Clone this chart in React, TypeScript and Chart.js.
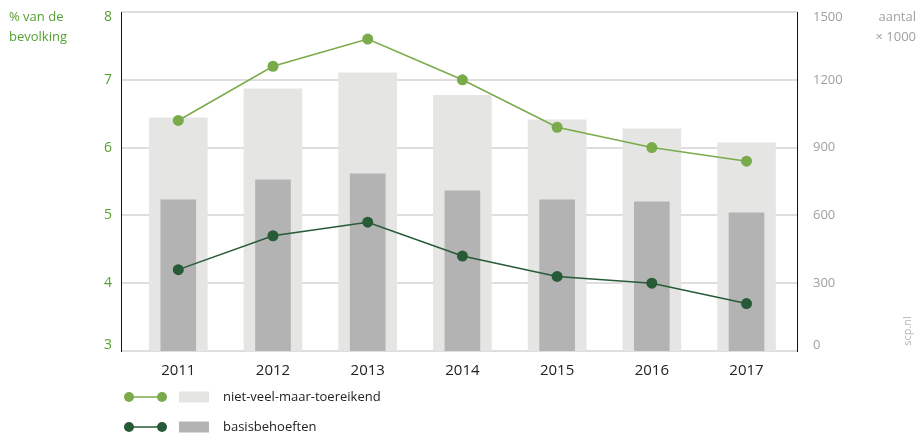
import React, { useEffect, useRef } from "react";
import { Chart, registerables } from "chart.js";

Chart.register(...registerables);

const years = [2011, 2012, 2013, 2014, 2015, 2016, 2017];
const pctNietVeel = [6.4, 7.2, 7.6, 7.0, 6.3, 6.0, 5.8];
const pctBasis = [4.2, 4.7, 4.9, 4.4, 4.1, 4.0, 3.7];
const aantalNietVeel = [1032, 1160, 1231, 1131, 1023, 983, 921];
const aantalBasis = [669, 757, 784, 709, 669, 660, 611];
const leftTicks = [3, 4, 5, 6, 7, 8];
const rightTicks = [0, 300, 600, 900, 1200, 1500];

const LIGHT_GREEN = "#7aab4a";
const DARK_GREEN = "#275a37";
const LIGHT_BAR = "#e5e5e4";
const DARK_BAR = "#b3b3b3";
const AXIS_GREEN = "#55a030";
const GRAY_TEXT = "#a0a0a0";
const FONT = "'Open Sans', 'DejaVu Sans', sans-serif";

// shift the outermost tick labels inwards, as in the reference
const edgeLabel = (v: number, min: number, max: number) => {
  const s = String(v);
  if (v === max) return ["", s];
  if (v === min) return [s, ""];
  return s;
};

const extrasPlugin = {
  id: "extras",
  afterDraw(chart: any) {
    const ctx = chart.ctx as CanvasRenderingContext2D;
    ctx.save();
    // axis titles
    ctx.font = `13px ${FONT}`;
    ctx.textBaseline = "middle";
    ctx.fillStyle = AXIS_GREEN;
    ctx.textAlign = "left";
    ctx.fillText("% van de", 9, 17);
    ctx.fillText("bevolking", 9, 37);
    ctx.fillStyle = GRAY_TEXT;
    ctx.textAlign = "right";
    ctx.fillText("aantal", 916, 17);
    ctx.fillText("× 1000", 916, 37);

    // legend
    const rows = [
      { y: 397, line: LIGHT_GREEN, box: LIGHT_BAR, text: "niet-veel-maar-toereikend" },
      { y: 427, line: DARK_GREEN, box: DARK_BAR, text: "basisbehoeften" },
    ];
    for (const r of rows) {
      ctx.strokeStyle = r.line;
      ctx.lineWidth = 1.5;
      ctx.beginPath();
      ctx.moveTo(129, r.y);
      ctx.lineTo(162, r.y);
      ctx.stroke();
      ctx.fillStyle = r.line;
      for (const x of [129, 162]) {
        ctx.beginPath();
        ctx.arc(x, r.y, 5, 0, Math.PI * 2);
        ctx.fill();
      }
      ctx.fillStyle = r.box;
      ctx.fillRect(179, r.y - 5.5, 30, 11);
      ctx.fillStyle = "#222";
      ctx.textAlign = "left";
      ctx.font = `13px ${FONT}`;
      ctx.fillText(r.text, 223, r.y);
    }

    // watermark
    ctx.translate(908, 331);
    ctx.rotate(-Math.PI / 2);
    ctx.font = `11px ${FONT}`;
    ctx.fillStyle = "#b5b5b5";
    ctx.textAlign = "center";
    ctx.fillText("scp.nl", 0, 0);
    ctx.restore();
  },
};

export default function App() {
  const ref = useRef<HTMLCanvasElement | null>(null);

  useEffect(() => {
    if (!ref.current) return;
    const chart = new Chart(ref.current, {
      type: "bar",
      data: {
        datasets: [
          {
            type: "line",
            label: "niet-veel-maar-toereikend (%)",
            data: years.map((x, i) => ({ x, y: pctNietVeel[i] })),
            yAxisID: "y",
            borderColor: LIGHT_GREEN,
            backgroundColor: LIGHT_GREEN,
            borderWidth: 1.5,
            pointRadius: 5.5,
            pointBorderWidth: 0,
            pointBackgroundColor: LIGHT_GREEN,
            order: 0,
          } as any,
          {
            type: "line",
            label: "basisbehoeften (%)",
            data: years.map((x, i) => ({ x, y: pctBasis[i] })),
            yAxisID: "y",
            borderColor: DARK_GREEN,
            backgroundColor: DARK_GREEN,
            borderWidth: 1.5,
            pointRadius: 5.5,
            pointBorderWidth: 0,
            pointBackgroundColor: DARK_GREEN,
            order: 1,
          } as any,
          {
            type: "bar",
            label: "basisbehoeften (aantal)",
            data: years.map((x, i) => ({ x, y: aantalBasis[i] })),
            yAxisID: "y1",
            backgroundColor: DARK_BAR,
            barThickness: 35,
            grouped: false,
            order: 2,
          } as any,
          {
            type: "bar",
            label: "niet-veel-maar-toereikend (aantal)",
            data: years.map((x, i) => ({ x, y: aantalNietVeel[i] })),
            yAxisID: "y1",
            backgroundColor: LIGHT_BAR,
            barThickness: 58,
            grouped: false,
            order: 3,
          } as any,
        ],
      },
      options: {
        animation: false,
        responsive: true,
        maintainAspectRatio: false,
        layout: { padding: { top: 12, left: 0, right: 0, bottom: 0 } },
        plugins: {
          legend: { display: false },
          tooltip: { enabled: false },
        },
        scales: {
          x: {
            type: "linear",
            offset: false,
            min: 2010.395,
            max: 2017.533,
            afterBuildTicks: (scale: any) => {
              scale.ticks = years.map((v) => ({ value: v }));
            },
            afterFit: (scale: any) => {
              scale.height = 83;
              scale.paddingLeft = 0;
              scale.paddingRight = 0;
            },
            grid: { display: false, drawTicks: true, tickLength: 8 },
            border: { display: false },
            ticks: {
              color: "#222",
              font: { family: FONT, size: 15 },
              padding: 3,
              maxRotation: 0,
              callback: (v: any) => String(v),
            },
          },
          y: {
            type: "linear",
            position: "left",
            min: 3,
            max: 8,
            afterBuildTicks: (scale: any) => {
              scale.ticks = leftTicks.map((v) => ({ value: v }));
            },
            afterFit: (scale: any) => {
              scale.width = 121;
              scale.paddingTop = 0;
              scale.paddingBottom = 0;
            },
            grid: { color: "#dedede", lineWidth: 2, drawTicks: false },
            border: { display: true, color: "#111", width: 1 },
            ticks: {
              color: AXIS_GREEN,
              font: { family: FONT, size: 14, lineHeight: "11px" },
              padding: 9,
              callback: (v: any) => edgeLabel(v, 3, 8),
            },
          },
          y1: {
            type: "linear",
            position: "right",
            min: 0,
            max: 1500,
            afterBuildTicks: (scale: any) => {
              scale.ticks = rightTicks.map((v) => ({ value: v }));
            },
            afterFit: (scale: any) => {
              scale.width = 121;
              scale.paddingTop = 0;
              scale.paddingBottom = 0;
            },
            grid: { display: false, drawTicks: false },
            border: { display: true, color: "#111", width: 1 },
            ticks: {
              color: GRAY_TEXT,
              font: { family: FONT, size: 13, lineHeight: "11px" },
              padding: 16,
              callback: (v: any) => edgeLabel(v, 0, 1500),
            },
          },
        },
      } as any,
      plugins: [extrasPlugin],
    });
    return () => chart.destroy();
  }, []);

  return (
    <div style={{ position: "fixed", left: 0, top: 0, width: 918, height: 434 }}>
      <canvas ref={ref} />
    </div>
  );
}
